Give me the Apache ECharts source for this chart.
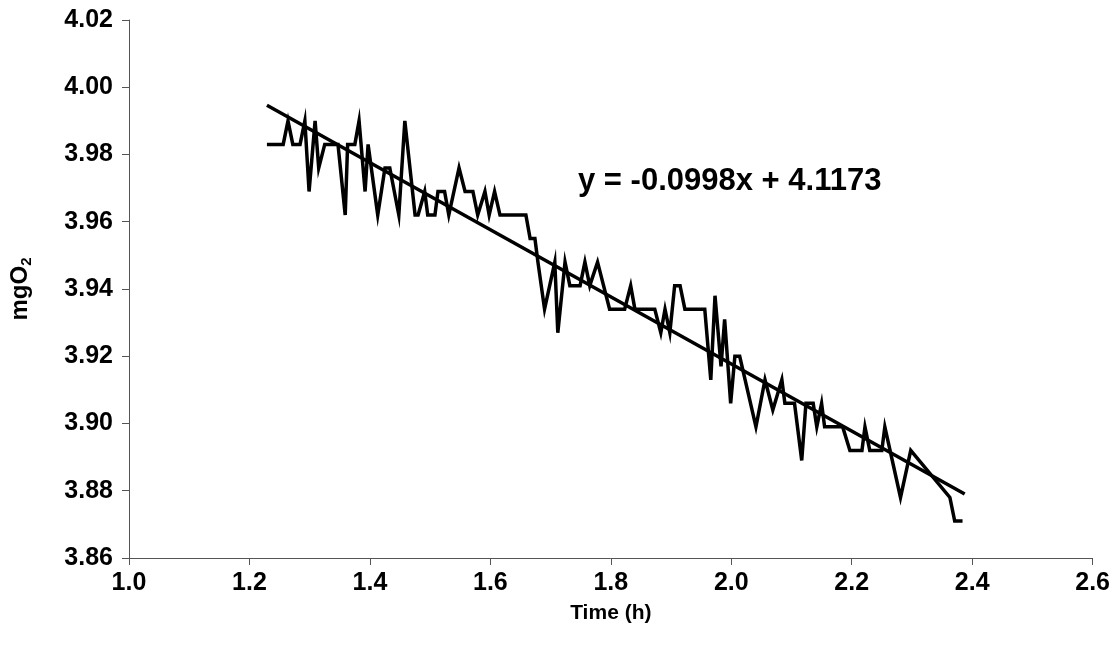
<!DOCTYPE html>
<html>
<head>
<meta charset="utf-8">
<script src="https://cdn.jsdelivr.net/npm/echarts@6/dist/echarts.min.js"></script>
<style>html,body{margin:0;padding:0;background:#fff}#c{width:1113px;height:648px}</style>
</head>
<body>
<div id="c"></div>
<script>
// Measured series: time (h) and mgO2
const timeH = [1.229,1.256,1.264,1.272,1.284,1.292,1.299,1.309,1.315,1.325,1.347,1.359,1.363,1.375,1.382,1.392,1.397,1.413,1.425,1.433,1.448,1.458,1.475,1.480,1.491,1.496,1.508,1.513,1.524,1.531,1.548,1.558,1.571,1.579,1.591,1.598,1.607,1.616,1.659,1.666,1.674,1.679,1.690,1.707,1.712,1.724,1.732,1.749,1.757,1.765,1.778,1.798,1.823,1.833,1.840,1.873,1.883,1.890,1.898,1.906,1.915,1.923,1.956,1.966,1.973,1.983,1.989,1.999,2.006,2.014,2.041,2.056,2.069,2.084,2.089,2.105,2.117,2.124,2.136,2.142,2.150,2.155,2.185,2.197,2.217,2.222,2.230,2.250,2.255,2.281,2.298,2.363,2.371,2.384];
const mgO2 = [3.983,3.983,3.990,3.983,3.983,3.990,3.969,3.990,3.976,3.983,3.983,3.962,3.983,3.983,3.990,3.969,3.983,3.962,3.976,3.976,3.962,3.990,3.962,3.962,3.969,3.962,3.962,3.969,3.969,3.962,3.976,3.969,3.969,3.962,3.969,3.962,3.969,3.962,3.962,3.955,3.955,3.948,3.934,3.948,3.927,3.948,3.941,3.941,3.948,3.941,3.948,3.934,3.934,3.941,3.934,3.934,3.927,3.934,3.927,3.941,3.941,3.934,3.934,3.913,3.938,3.917,3.931,3.906,3.920,3.920,3.899,3.913,3.904,3.913,3.906,3.906,3.889,3.906,3.906,3.899,3.906,3.899,3.899,3.892,3.892,3.899,3.892,3.892,3.899,3.878,3.892,3.878,3.871,3.871];
// Linear trend line from the printed equation
const slope = -0.0998;
const intercept = 4.1173;
const trendX = [1.229, 2.3876];
const equationText = 'y = -0.0998x + 4.1173';
const xTicks = {min: 1.0, max: 2.6, interval: 0.2};
const yTicks = {min: 3.86, max: 4.02, interval: 0.02};

const font = 'Liberation Sans, Arial, sans-serif';
const chart = echarts.init(document.getElementById('c'), null, {renderer: 'canvas'});
chart.setOption({
  animation: false,
  backgroundColor: '#fff',
  grid: {left: 129, right: 20, top: 20, bottom: 90, containLabel: false},
  xAxis: {
    type: 'value', min: xTicks.min, max: xTicks.max, interval: xTicks.interval,
    name: 'Time (h)', nameLocation: 'middle', nameGap: 45,
    nameTextStyle: {fontFamily: font, fontWeight: 'bold', fontSize: 21, color: '#000'},
    axisLine: {onZero: false, lineStyle: {color: '#555', width: 1}},
    axisTick: {show: true, inside: false, length: 7, lineStyle: {color: '#555'}},
    splitLine: {show: false},
    axisLabel: {margin: 13, fontFamily: font, fontWeight: 'bold', fontSize: 25, color: '#000',
      formatter: v => v.toFixed(1)}
  },
  yAxis: {
    type: 'value', min: yTicks.min, max: yTicks.max, interval: yTicks.interval,
    name: '{a|mgO}{s|2}', nameLocation: 'middle', nameGap: 95, nameRotate: 90,
    nameTextStyle: {padding: [0, 0, 0, 0], rich: {
      a: {fontFamily: font, fontWeight: 'bold', fontSize: 24, color: '#000', lineHeight: 28},
      s: {fontFamily: font, fontWeight: 'bold', fontSize: 15, color: '#000', lineHeight: 28, verticalAlign: 'bottom', padding: [9,0,0,0]}
    }},
    axisLine: {show: true, lineStyle: {color: '#555', width: 1}},
    axisTick: {show: true, inside: false, length: 7, lineStyle: {color: '#555'}},
    splitLine: {show: false},
    axisLabel: {margin: 16, fontFamily: font, fontWeight: 'bold', fontSize: 25, color: '#000',
      formatter: v => v.toFixed(2)}
  },
  graphic: [{
    type: 'text', left: 578, top: 166,
    style: {text: equationText, font: 'bold 31px ' + font, fill: '#000'}
  }],
  series: [{
    type: 'line', data: timeH.map((t, i) => [t, mgO2[i]]),
    showSymbol: false, symbol: 'none',
    lineStyle: {color: '#000', width: 3.5, join: 'miter'}
  }, {
    type: 'line', data: trendX.map(t => [t, slope * t + intercept]),
    showSymbol: false, symbol: 'none',
    lineStyle: {color: '#000', width: 3.5}
  }]
});
</script>
</body>
</html>
